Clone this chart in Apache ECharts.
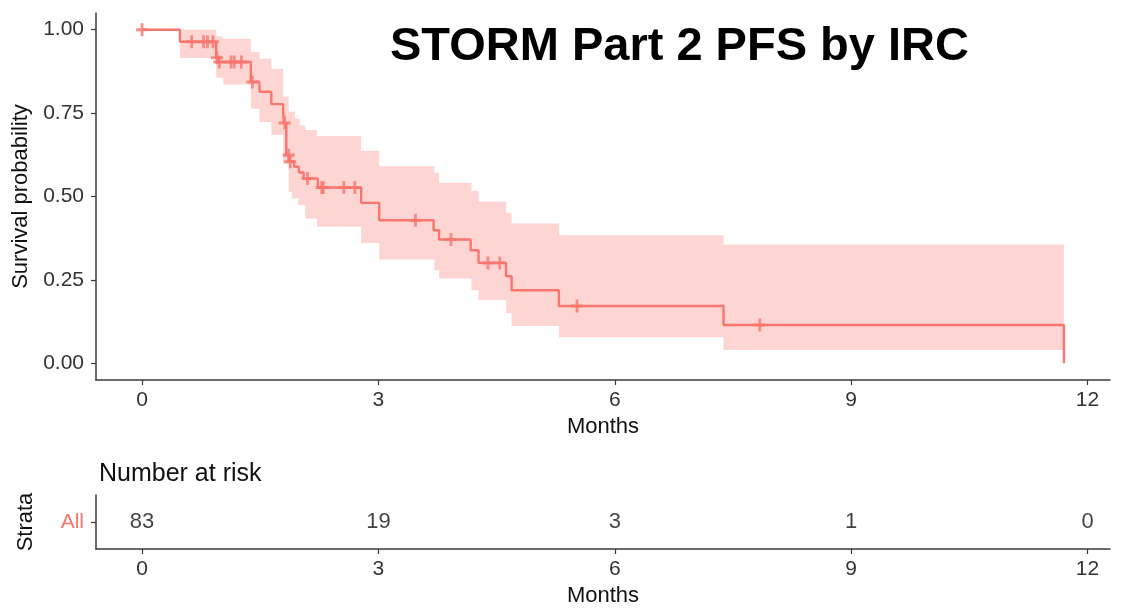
<!DOCTYPE html>
<html>
<head>
<meta charset="utf-8">
<title>STORM Part 2 PFS by IRC</title>
<script src="https://cdn.jsdelivr.net/npm/echarts@6/dist/echarts.min.js"></script>
<style>
  html, body { margin: 0; padding: 0; background: #ffffff; }
  #chart { width: 1127px; height: 608px; }
</style>
</head>
<body>
<div id="chart"></div>
<script>
// Kaplan-Meier estimate (months, survival probability after each step)
const months   = [0, 0.48, 0.94, 0.97, 1.38, 1.49, 1.64, 1.79, 1.80, 1.83, 1.87, 1.93, 1.99, 2.05, 2.23, 2.78, 3.01, 3.70, 3.77, 4.17, 4.27, 4.62, 4.69, 5.29, 7.38, 11.70];
const survival = [1.000, 0.964, 0.916, 0.903, 0.843, 0.814, 0.777, 0.758, 0.720, 0.624, 0.604, 0.589, 0.572, 0.554, 0.527, 0.481, 0.429, 0.399, 0.371, 0.339, 0.301, 0.261, 0.219, 0.172, 0.115, 0.000];

// 95% confidence band steps
const bandMonths = [0.48, 0.94, 1.03, 1.38, 1.49, 1.64, 1.79, 1.86, 1.90, 1.94, 1.98, 2.00, 2.07, 2.22, 2.78, 3.01, 3.71, 3.77, 4.18, 4.27, 4.62, 4.69, 5.29, 7.38, 11.70];
const bandUpper  = [1.000, 0.980, 0.973, 0.933, 0.913, 0.883, 0.800, 0.754, 0.754, 0.733, 0.733, 0.713, 0.699, 0.681, 0.637, 0.591, 0.571, 0.541, 0.517, 0.484, 0.451, 0.419, 0.384, 0.356, 0.356];
const bandLower  = [0.915, 0.856, 0.836, 0.763, 0.723, 0.684, 0.599, 0.514, 0.494, 0.494, 0.474, 0.474, 0.434, 0.409, 0.361, 0.311, 0.279, 0.254, 0.219, 0.190, 0.150, 0.112, 0.078, 0.040, 0.040];

// Censoring times (months)
const censorMonths = [0.00, 0.63, 0.78, 0.83, 0.90, 0.95, 0.98, 1.13, 1.17, 1.26, 1.40, 1.81, 1.86, 1.88, 2.10, 2.28, 2.30, 2.56, 2.70, 3.47, 3.92, 4.39, 4.54, 5.52, 7.84];

// Number at risk table
const strata = ['All'];
const riskMonths = [0, 3, 6, 9, 12];
const riskCounts = [83, 19, 3, 1, 0];

// Axis ticks
const xTicks = [0, 3, 6, 9, 12];
const yTicks = [0, 0.25, 0.5, 0.75, 1];

const RED = '#F8766D';
const BAND = 'rgba(248,118,109,0.3)';
const FONT = 'Liberation Sans, Arial, sans-serif';
const AXIS_COLOR = '#3a3a3a';

function survivalAt(t) {
  let s = survival[0];
  for (let i = 0; i < months.length; i++) {
    if (months[i] <= t) s = survival[i];
  }
  return s;
}

const xRange = { min: -0.585, max: 12.285 };

// Plus-shaped censor mark
const plusSymbol = 'path://M0,4.6L12,4.6L12,7.4L0,7.4ZM4.6,0L7.4,0L7.4,12L4.6,12Z';

function axisLine() {
  return { show: true, onZero: false, lineStyle: { color: AXIS_COLOR, width: 1.5 } };
}
function axisTick(extra) {
  return Object.assign({ show: true, length: 5, lineStyle: { color: AXIS_COLOR, width: 1.2 } }, extra || {});
}

// Step-shaped confidence band drawn as one polygon through the axis scales
function renderBand(params, api) {
  if (params.dataIndex !== 0) return null;
  const top = [];
  const bottom = [];
  for (let i = 0; i < bandMonths.length - 1; i++) {
    const t0 = bandMonths[i], t1 = bandMonths[i + 1];
    top.push(api.coord([t0, bandUpper[i]]), api.coord([t1, bandUpper[i]]));
    bottom.push(api.coord([t0, bandLower[i]]), api.coord([t1, bandLower[i]]));
  }
  const points = top.concat(bottom.reverse());
  return {
    type: 'polygon',
    shape: { points: points },
    style: { fill: BAND, stroke: null }
  };
}

const chart = echarts.init(document.getElementById('chart'), null, { renderer: 'canvas' });

chart.setOption({
  backgroundColor: '#ffffff',
  animation: false,
  textStyle: { fontFamily: FONT },
  title: [
    {
      text: 'STORM Part 2 PFS by IRC',
      left: 385, top: 19,
      textStyle: { fontFamily: FONT, fontWeight: 'bold', fontSize: 47, color: '#000000' }
    },
    {
      text: 'Number at risk',
      left: 94, top: 457,
      textStyle: { fontFamily: FONT, fontWeight: 'normal', fontSize: 25, color: '#111111' }
    }
  ],
  grid: [
    { left: 96, right: 17, top: 13, height: 367 },
    { left: 96, right: 17, top: 495, height: 57 }
  ],
  xAxis: [
    {
      type: 'value', gridIndex: 0, min: xRange.min, max: xRange.max,
      name: 'Months', nameLocation: 'middle', nameGap: 36,
      nameTextStyle: { fontFamily: FONT, fontSize: 22, color: '#111111' },
      axisLine: axisLine(),
      axisTick: axisTick({ customValues: xTicks }),
      splitLine: { show: false },
      axisLabel: { customValues: xTicks, margin: 10, fontFamily: FONT, fontSize: 21, color: '#333333' }
    },
    {
      type: 'value', gridIndex: 1, min: xRange.min, max: xRange.max,
      name: 'Months', nameLocation: 'middle', nameGap: 36,
      nameTextStyle: { fontFamily: FONT, fontSize: 22, color: '#111111' },
      axisLine: axisLine(),
      axisTick: axisTick({ customValues: xTicks }),
      splitLine: { show: false },
      axisLabel: { customValues: xTicks, margin: 10, fontFamily: FONT, fontSize: 21, color: '#333333' }
    }
  ],
  yAxis: [
    {
      type: 'value', gridIndex: 0, min: -0.05, max: 1.05,
      name: 'Survival probability', nameLocation: 'middle', nameGap: 58,
      nameTextStyle: { fontFamily: FONT, fontSize: 22, color: '#111111' },
      axisLine: axisLine(),
      axisTick: axisTick({ customValues: yTicks }),
      splitLine: { show: false },
      axisLabel: {
        customValues: yTicks, margin: 12, fontFamily: FONT, fontSize: 21, color: '#333333',
        formatter: v => v.toFixed(2)
      }
    },
    {
      type: 'category', gridIndex: 1, data: strata,
      name: 'Strata', nameLocation: 'middle', nameGap: 59,
      nameTextStyle: { fontFamily: FONT, fontSize: 22, color: '#111111' },
      axisLine: axisLine(),
      axisTick: axisTick({ alignWithLabel: true }),
      splitLine: { show: false },
      axisLabel: { margin: 12, fontFamily: FONT, fontSize: 21, color: RED }
    }
  ],
  series: [
    {
      name: 'band', type: 'custom',
      xAxisIndex: 0, yAxisIndex: 0, silent: true,
      renderItem: renderBand,
      encode: { x: 0, y: [1, 2] },
      data: bandMonths.map((t, i) => [t, bandLower[i], bandUpper[i]])
    },
    {
      name: 'All', type: 'line', step: 'end',
      xAxisIndex: 0, yAxisIndex: 0, symbol: 'none',
      lineStyle: { color: RED, width: 2.4 },
      data: months.map((t, i) => [t, survival[i]])
    },
    {
      name: 'censor', type: 'scatter',
      xAxisIndex: 0, yAxisIndex: 0,
      symbol: plusSymbol, symbolSize: [12, 13],
      itemStyle: { color: RED },
      data: censorMonths.map(t => [t, survivalAt(t)])
    },
    {
      name: 'risk', type: 'scatter',
      xAxisIndex: 1, yAxisIndex: 1,
      symbolSize: 0,
      label: {
        show: true, position: 'inside',
        fontFamily: FONT, fontSize: 22, color: '#111111',
        formatter: p => String(p.data[2])
      },
      data: riskMonths.map((t, i) => [t, 0, riskCounts[i]])
    }
  ]
});
</script>
</body>
</html>
